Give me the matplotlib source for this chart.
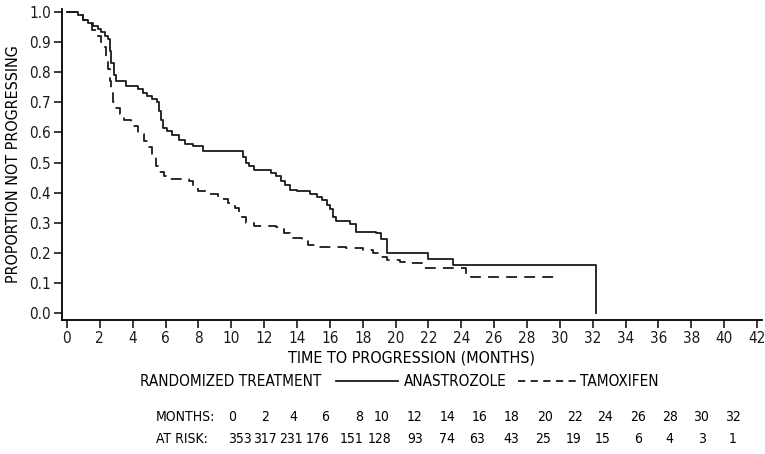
import matplotlib
matplotlib.use('Agg')
import matplotlib.pyplot as plt
from matplotlib import font_manager
from matplotlib.lines import Line2D

# the reference uses a narrow sans; take a condensed face if one is installed
narrow = None
for f in font_manager.fontManager.ttflist:
    st = str(f.stretch).lower()
    if ('narrow' in f.name.lower() or 'condensed' in f.name.lower()
            or st in ('condensed', 'semi-condensed', '75', '87')) and f.weight in (400, 'normal', 'regular'):
        narrow = f
        break

if narrow is not None:
    plt.rcParams['font.family'] = [narrow.name, 'DejaVu Sans']
    plt.rcParams['font.stretch'] = narrow.stretch
    FS = 11
else:
    plt.rcParams['font.family'] = ['Liberation Sans', 'DejaVu Sans']
    FS = 9.8

# Kaplan-Meier curves (time in months, proportion after step)
ana_t = [0, 0.7, 1.0, 1.3, 1.6, 1.9, 2.1, 2.3, 2.5, 2.6, 2.7, 2.85, 3.0, 3.6, 4.3, 4.6,
         4.9, 5.2, 5.5, 5.6, 5.7, 5.85, 6.1, 6.4, 6.8, 7.2, 7.7, 8.3, 10.7, 10.9, 11.1,
         11.4, 12.4, 12.7, 13.0, 13.3, 13.6, 14.0, 14.8, 15.2, 15.5, 15.8, 16.0, 16.2,
         16.4, 17.2, 17.6, 18.8, 19.1, 19.5, 22.0, 23.5, 32.2]
ana_s = [1.0, 0.99, 0.975, 0.965, 0.955, 0.945, 0.935, 0.92, 0.91, 0.87, 0.83, 0.79,
         0.77, 0.755, 0.745, 0.73, 0.72, 0.71, 0.70, 0.67, 0.64, 0.615, 0.605, 0.59,
         0.575, 0.56, 0.555, 0.54, 0.52, 0.50, 0.49, 0.475, 0.465, 0.455, 0.44, 0.425,
         0.41, 0.405, 0.395, 0.385, 0.375, 0.36, 0.345, 0.32, 0.305, 0.295, 0.27, 0.265,
         0.245, 0.20, 0.18, 0.16, 0.0]

tam_t = [0, 0.7, 1.0, 1.2, 1.5, 1.8, 2.05, 2.2, 2.35, 2.5, 2.6, 2.7, 2.8, 2.9, 3.2,
         3.5, 3.9, 4.3, 4.7, 5.0, 5.2, 5.4, 5.6, 5.9, 6.3, 7.4, 7.7, 8.0, 8.6, 9.2, 9.8,
         10.2, 10.5, 10.9, 11.4, 12.7, 13.2, 13.6, 14.3, 14.7, 15.2, 17.0, 18.0, 18.6,
         19.1, 19.5, 20.3, 20.6, 21.6, 24.3, 24.6, 30.0]
tam_s = [1.0, 0.99, 0.975, 0.96, 0.94, 0.92, 0.90, 0.885, 0.85, 0.81, 0.77, 0.73,
         0.70, 0.68, 0.66, 0.64, 0.62, 0.595, 0.57, 0.55, 0.52, 0.49, 0.47, 0.455,
         0.445, 0.44, 0.42, 0.405, 0.395, 0.38, 0.365, 0.35, 0.32, 0.30, 0.29, 0.285,
         0.265, 0.25, 0.24, 0.225, 0.22, 0.215, 0.21, 0.20, 0.185, 0.175, 0.17, 0.165,
         0.15, 0.13, 0.12, 0.12]

months = [0, 2, 4, 6, 8, 10, 12, 14, 16, 18, 20, 22, 24, 26, 28, 30, 32]
at_risk = [353, 317, 231, 176, 151, 128, 93, 74, 63, 43, 25, 19, 15, 6, 4, 3, 1]

W, H = 765, 454
fig = plt.figure(figsize=(W / 100, H / 100), dpi=100)
ax = fig.add_axes([62 / W, 1 - 320 / H, 700 / W, 311 / H])

ax.plot(ana_t, ana_s, drawstyle='steps-post', color='#1a1a1a', lw=1.3)
ax.plot(tam_t, tam_s, drawstyle='steps-post', color='#1a1a1a', lw=1.3,
        dashes=(6, 4))

ax.set_xlim(-0.3, 42.3)
ax.set_ylim(-0.023, 1.01)
ax.set_xticks(range(0, 43, 2))
ax.set_yticks([i / 10 for i in range(11)])
ax.set_yticklabels(['%.1f' % (i / 10) for i in range(11)])
for s in ['top', 'right']:
    ax.spines[s].set_visible(False)
for s in ['left', 'bottom']:
    ax.spines[s].set_linewidth(1.3)
ax.tick_params(axis='both', direction='out', length=6, width=1.2, labelsize=FS,
               colors='#1a1a1a', pad=2)
ax.set_xlabel('TIME TO PROGRESSION (MONTHS)', fontsize=FS + 0.5, labelpad=3)
ax.set_ylabel('PROPORTION NOT PROGRESSING', fontsize=FS + 0.5, labelpad=6)

# legend row
ly = 1 - 381 / H
fig.text(140 / W, ly, 'RANDOMIZED TREATMENT', fontsize=FS, va='center')
fig.add_artist(Line2D([336 / W, 398 / W], [ly, ly], color='#1a1a1a', lw=1.3))
fig.text(404 / W, ly, 'ANASTROZOLE', fontsize=FS, va='center')
fig.add_artist(Line2D([518 / W, 579 / W], [ly, ly], color='#1a1a1a', lw=1.3,
                      dashes=(4, 3)))
fig.text(580 / W, ly, 'TAMOXIFEN', fontsize=FS, va='center')

# number at risk table
month_x = [232, 265, 293, 325, 359, 382, 415, 448, 480, 512, 545, 575, 605, 638,
           670, 701, 733]
risk_x = [240, 265, 291, 318, 352, 380, 415, 447, 477, 511, 543, 574, 603, 638,
          669, 702, 733]
my = 1 - 417 / H
ry = 1 - 439 / H
tfs = FS - 1
fig.text(156 / W, my, 'MONTHS:', fontsize=tfs, va='center')
fig.text(156 / W, ry, 'AT RISK:', fontsize=tfs, va='center')
for m, x in zip(months, month_x):
    fig.text(x / W, my, str(m), fontsize=tfs, va='center', ha='center')
for r, x in zip(at_risk, risk_x):
    fig.text(x / W, ry, str(r), fontsize=tfs, va='center', ha='center')

fig.savefig('out.png', dpi=100)
